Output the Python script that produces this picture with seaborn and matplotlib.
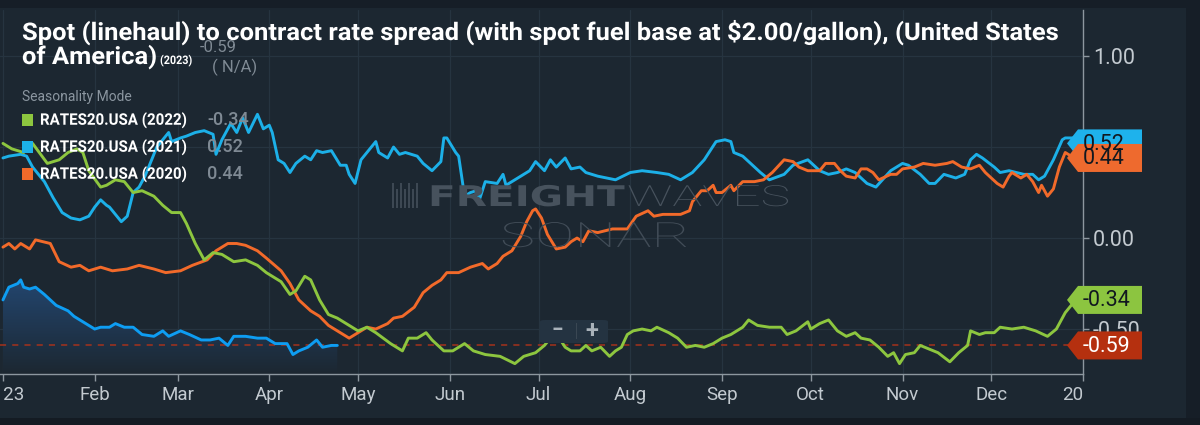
import numpy as np
import pandas as pd
import matplotlib
matplotlib.use("Agg")
import matplotlib.pyplot as plt
import matplotlib.dates as mdates
import matplotlib.transforms as mtransforms
from matplotlib.patches import Polygon, Rectangle, FancyBboxPatch
from matplotlib.patheffects import AbstractPathEffect
from matplotlib.colors import LinearSegmentedColormap
import seaborn as sns

# ---- values (x = days after Jan 1 2023) ----
days_2023 = [0, 2, 5, 6, 7, 9, 11, 14, 16, 18, 22, 24, 27, 31, 33, 36, 38, 41, 44, 47, 51,
             54, 56, 60, 63, 67, 70, 73, 76, 78, 82, 86, 89, 92, 94, 96, 98, 100, 103, 106,
             108, 111, 113]
vals_2023 = [-0.34, -0.27, -0.25, -0.23, -0.27, -0.28, -0.27, -0.31, -0.34, -0.37, -0.40,
             -0.43, -0.46, -0.50, -0.49, -0.49, -0.47, -0.49, -0.49, -0.53, -0.54, -0.51,
             -0.54, -0.51, -0.53, -0.56, -0.56, -0.55, -0.59, -0.54, -0.54, -0.55, -0.55,
             -0.58, -0.58, -0.58, -0.64, -0.62, -0.60, -0.56, -0.60, -0.59, -0.59]

days_2022 = [0, 3, 7, 10, 15, 19, 22, 25, 27, 29, 33, 35, 38, 41, 44, 47, 51, 54, 57, 60, 62,
             65, 68, 71, 74, 78, 82, 86, 89, 94, 97, 99, 102, 104, 107, 110, 113, 116, 120,
             123, 126, 131, 135, 137, 140, 143, 145, 149, 152, 156, 159, 163, 168, 173, 176,
             180, 183, 185, 188, 190, 192, 195, 197, 199, 202, 205, 207, 209, 211, 213, 216,
             219, 221, 225, 228, 231, 234, 237, 240, 243, 246, 250, 252, 255, 259, 263, 265,
             268, 272, 273, 276, 279, 282, 285, 288, 290, 293, 296, 299, 301, 303, 305, 308,
             310, 313, 316, 320, 323, 326, 327, 330, 332, 335, 337, 341, 345, 349, 353, 356,
             359, 361, 363]
vals_2022 = [0.52, 0.49, 0.47, 0.52, 0.41, 0.43, 0.47, 0.49, 0.47, 0.37, 0.28, 0.29, 0.32,
             0.31, 0.25, 0.26, 0.23, 0.18, 0.14, 0.14, 0.08, -0.03, -0.12, -0.08, -0.09,
             -0.13, -0.12, -0.15, -0.19, -0.24, -0.31, -0.29, -0.21, -0.23, -0.34, -0.42,
             -0.44, -0.47, -0.51, -0.49, -0.52, -0.58, -0.62, -0.55, -0.55, -0.52, -0.56,
             -0.62, -0.62, -0.58, -0.62, -0.64, -0.65, -0.69, -0.65, -0.63, -0.59, -0.55,
             -0.55, -0.60, -0.62, -0.62, -0.59, -0.62, -0.60, -0.65, -0.62, -0.60, -0.53,
             -0.51, -0.50, -0.51, -0.49, -0.52, -0.55, -0.60, -0.59, -0.60, -0.58, -0.55,
             -0.53, -0.49, -0.45, -0.48, -0.49, -0.49, -0.53, -0.51, -0.46, -0.50, -0.47,
             -0.45, -0.51, -0.54, -0.52, -0.55, -0.56, -0.60, -0.65, -0.63, -0.69, -0.64,
             -0.63, -0.59, -0.61, -0.63, -0.68, -0.63, -0.59, -0.51, -0.53, -0.52, -0.52,
             -0.49, -0.50, -0.49, -0.51, -0.54, -0.50, -0.41, -0.37, -0.34]

days_2021 = [0, 2, 6, 8, 10, 14, 17, 20, 23, 26, 29, 31, 33, 35, 36, 38, 40, 42, 44, 46, 48,
             50, 52, 54, 56, 57, 60, 62, 65, 68, 71, 72, 74, 77, 79, 81, 83, 86, 88, 90, 91,
             93, 95, 97, 99, 102, 104, 106, 108, 111, 114, 116, 117, 119, 121, 123, 126, 127,
             130, 132, 134, 136, 138, 140, 142, 145, 148, 149, 150, 153, 154, 156, 158, 160,
             161, 163, 167, 169, 170, 172, 176, 178, 180, 183, 185, 187, 190, 192, 195, 197,
             201, 204, 207, 212, 216, 221, 225, 229, 233, 237, 239, 241, 244, 246, 247, 250,
             254, 256, 259, 264, 267, 272, 276, 279, 282, 285, 288, 292, 295, 300, 304, 306,
             310, 313, 315, 318, 322, 325, 327, 329, 331, 335, 337, 340, 345, 348, 350, 352,
             355, 358, 359, 362, 363]
vals_2021 = [0.44, 0.45, 0.46, 0.45, 0.39, 0.31, 0.22, 0.14, 0.11, 0.10, 0.12, 0.17, 0.21,
             0.18, 0.17, 0.13, 0.09, 0.12, 0.25, 0.28, 0.34, 0.42, 0.50, 0.54, 0.58, 0.53,
             0.55, 0.56, 0.58, 0.59, 0.57, 0.46, 0.54, 0.63, 0.58, 0.66, 0.58, 0.68, 0.60,
             0.62, 0.58, 0.43, 0.41, 0.36, 0.41, 0.45, 0.43, 0.48, 0.47, 0.48, 0.40, 0.40,
             0.35, 0.30, 0.43, 0.47, 0.53, 0.47, 0.44, 0.50, 0.46, 0.47, 0.46, 0.45, 0.41,
             0.37, 0.42, 0.55, 0.55, 0.47, 0.45, 0.23, 0.25, 0.26, 0.21, 0.31, 0.30, 0.35,
             0.29, 0.31, 0.35, 0.37, 0.42, 0.37, 0.43, 0.39, 0.44, 0.38, 0.39, 0.36, 0.34,
             0.33, 0.32, 0.36, 0.37, 0.36, 0.35, 0.32, 0.36, 0.43, 0.48, 0.53, 0.54, 0.53,
             0.47, 0.45, 0.39, 0.36, 0.32, 0.35, 0.40, 0.43, 0.37, 0.35, 0.36, 0.38, 0.36,
             0.30, 0.28, 0.37, 0.41, 0.40, 0.35, 0.30, 0.30, 0.35, 0.33, 0.35, 0.43, 0.46,
             0.44, 0.39, 0.36, 0.37, 0.35, 0.35, 0.32, 0.34, 0.43, 0.54, 0.55, 0.55, 0.52]

days_2020 = [0, 2, 4, 6, 9, 11, 16, 19, 23, 26, 29, 33, 37, 42, 46, 51, 55, 60, 64, 69, 72,
             76, 79, 82, 86, 89, 94, 97, 100, 104, 107, 110, 114, 117, 120, 123, 126, 130,
             132, 135, 139, 142, 145, 148, 150, 154, 158, 162, 164, 167, 169, 172, 175, 177,
             179, 180, 182, 184, 187, 190, 192, 194, 196, 198, 201, 206, 211, 214, 218, 220,
             223, 226, 229, 232, 233, 236, 238, 240, 241, 243, 246, 247, 250, 254, 257, 260,
             264, 267, 269, 272, 276, 278, 281, 283, 285, 288, 290, 292, 294, 296, 300, 302,
             304, 308, 311, 315, 319, 321, 324, 327, 330, 332, 336, 338, 340, 341, 344, 346,
             348, 350, 351, 353, 355, 357, 359, 361, 363]
vals_2020 = [-0.05, -0.03, -0.06, -0.03, -0.06, -0.01, -0.03, -0.13, -0.16, -0.15, -0.18,
             -0.16, -0.18, -0.17, -0.15, -0.17, -0.19, -0.18, -0.15, -0.12, -0.07, -0.03,
             -0.03, -0.04, -0.07, -0.11, -0.18, -0.25, -0.34, -0.40, -0.43, -0.48, -0.52,
             -0.55, -0.52, -0.49, -0.50, -0.47, -0.44, -0.43, -0.38, -0.30, -0.26, -0.23,
             -0.19, -0.19, -0.16, -0.14, -0.17, -0.14, -0.10, -0.07, 0.01, 0.09, 0.15, 0.16,
             0.11, 0.02, -0.06, -0.05, -0.02, 0.00, -0.02, 0.04, 0.03, 0.05, 0.05, 0.12, 0.15,
             0.12, 0.13, 0.13, 0.13, 0.15, 0.20, 0.26, 0.26, 0.29, 0.25, 0.25, 0.29, 0.26,
             0.31, 0.31, 0.32, 0.36, 0.43, 0.42, 0.39, 0.37, 0.37, 0.41, 0.41, 0.37, 0.34,
             0.33, 0.38, 0.38, 0.36, 0.32, 0.35, 0.35, 0.38, 0.39, 0.41, 0.40, 0.41, 0.42,
             0.39, 0.38, 0.40, 0.36, 0.30, 0.28, 0.34, 0.36, 0.33, 0.35, 0.31, 0.25, 0.29,
             0.23, 0.27, 0.39, 0.47, 0.45, 0.44]

legend_names = ["RATES20.USA (2022)", "RATES20.USA (2021)", "RATES20.USA (2020)"]
legend_values = ["-0.34", "0.52", "0.44"]
month_labels = ["2023", "Feb", "Mar", "Apr", "May", "Jun", "Jul", "Aug", "Sep", "Oct",
                "Nov", "Dec", "2024"]
last_2023, last_2022, last_2021, last_2020 = -0.59, -0.34, 0.52, 0.44

# ---- colours ----
bg = "#1c2731"
grid_col = "#263440"
green = "#8dc63f"
blue21 = "#1cb0e8"
blue23 = "#0e9df2"
orange = "#f26a2a"
red = "#b5300f"
wm_col = "#47525d"


class HScale(AbstractPathEffect):
    """squeeze / stretch a text horizontally around its left edge"""

    def __init__(self, sx, x0):
        super().__init__()
        self.sx, self.x0 = sx, x0

    def draw_path(self, renderer, gc, tpath, affine, rgbFace=None):
        t = affine + mtransforms.Affine2D().translate(-self.x0, 0).scale(self.sx, 1).translate(self.x0, 0)
        renderer.draw_path(gc, tpath, t, rgbFace)


start = pd.Timestamp("2023-01-01")
frames = []
for name, d, v in [("2023", days_2023, vals_2023), ("2021", days_2021, vals_2021),
                   ("2020", days_2020, vals_2020), ("2022", days_2022, vals_2022)]:
    frames.append(pd.DataFrame({"date": start + pd.to_timedelta(d, unit="D"),
                                "value": v, "series": name}))
df = pd.concat(frames, ignore_index=True)

sns.set_style("dark")
plt.rcParams["font.family"] = ["Roboto", "DejaVu Sans"]

fig = plt.figure(figsize=(12, 4.25), dpi=100)
fig.patch.set_facecolor(bg)
ax = fig.add_axes([0, 51 / 425, 1083 / 1200, 364 / 425])
ax.set_facecolor(bg)

palette = {"2023": blue23, "2021": blue21, "2020": orange, "2022": green}
sns.lineplot(data=df, x="date", y="value", hue="series", palette=palette,
             hue_order=["2023", "2021", "2020", "2022"], estimator=None,
             linewidth=2.1, legend=False, ax=ax, zorder=3)

ymin, ymax = -0.747, 1.253
x0, x1 = pd.Timestamp("2022-12-31"), pd.Timestamp("2024-01-01")

# gradient fill under the 2023 line
d23 = df[df.series == "2023"]
poly = ax.fill_between(d23["date"], d23["value"], ymin, facecolor="none", edgecolor="none")
xn = mdates.date2num(d23["date"])
grad = np.linspace(0, 1, 256).reshape(-1, 1)
cmap = LinearSegmentedColormap.from_list("fill", [bg, "#23466f"])
im = ax.imshow(grad, extent=[xn[0], xn[-1], ymin, max(vals_2023)], origin="lower",
               aspect="auto", cmap=cmap, zorder=1)
im.set_clip_path(poly.get_paths()[0], transform=ax.transData)

ax.axhline(last_2023, color="#a5321c", lw=1.1, ls=(0, (4, 4)), zorder=2)

ax.set_xlim(x0, x1)
ax.set_ylim(ymin, ymax)
ticks = pd.date_range("2023-01-01", "2024-01-01", freq="MS")
ax.set_xticks(ticks)
ax.set_xticklabels(month_labels)
ax.set_yticks([-0.5, 0, 0.5, 1.0])
ax.set_yticklabels(["-0.50", "0.00", "0.50", "1.00"])
ax.yaxis.tick_right()
ax.set_xlabel("")
ax.set_ylabel("")
ax.grid(True, color=grid_col, lw=0.9)
ax.tick_params(axis="x", colors="#8d979f", labelcolor="#c3cad0", labelsize=13.5,
               length=5, width=1, pad=4, bottom=True)
ax.tick_params(axis="y", colors="#8d979f", labelcolor="#c3cad0", labelsize=15.5,
               length=4, width=1, pad=3, right=True)
for s in ["left", "top"]:
    ax.spines[s].set_visible(False)
for s in ["right", "bottom"]:
    ax.spines[s].set_visible(True)
    ax.spines[s].set_color("#8d979f")
    ax.spines[s].set_linewidth(1)

# year labels are cut at the plot edges, like the original
label_clip = mtransforms.TransformedBbox(
    mtransforms.Bbox.from_extents(3 / 1200, 0, 1083 / 1200, 1), fig.transFigure)
for lab in ax.get_xticklabels():
    lab.set_clip_box(label_clip)
    lab.set_clip_on(True)

# watermark
for i in range(7):
    fig.patches.append(Rectangle(((392 + 4 * i) / 1200, (425 - 208) / 425), 2 / 1200,
                                 (25 - 6 * (i % 2)) / 425, transform=fig.transFigure,
                                 facecolor="#3d4853", edgecolor="none", zorder=1))
wm1 = fig.text(428 / 1200, 1 - 206 / 425, "FREIGHT", fontsize=20.5, color=wm_col,
               fontweight="heavy", family=["DejaVu Sans"], va="baseline", ha="left", zorder=1)
wm2 = fig.text(627 / 1200, 1 - 206 / 425, "WAVES", fontsize=21, color=wm_col,
               fontweight=100, va="baseline", ha="left", zorder=1)
wm3 = fig.text(500 / 1200, 1 - 247 / 425, "SONAR", fontsize=25, color="#414c57",
               fontweight=100, va="baseline", ha="left", zorder=1)

# zoom widget
fig.patches.append(FancyBboxPatch((540 / 1200, (425 - 343) / 425), 68 / 1200, 23 / 425,
                                  boxstyle="round,pad=0,rounding_size=0.004",
                                  transform=fig.transFigure, facecolor="#243341",
                                  edgecolor="none", zorder=5))
fig.patches.append(Rectangle((576 / 1200, (425 - 339) / 425), 1 / 1200, 16 / 425,
                             transform=fig.transFigure, facecolor="#3a4753",
                             edgecolor="none", zorder=6))
fig.text(557 / 1200, 1 - 331 / 425, "\u2212", fontsize=15, color="#a9b2ba",
         fontweight="bold", ha="center", va="center", zorder=6)
fig.text(592 / 1200, 1 - 331 / 425, "+", fontsize=17, color="#a9b2ba",
         fontweight="bold", ha="center", va="center", zorder=6)

# value flags on the right
trans = mtransforms.blended_transform_factory(fig.transFigure, ax.transData)
h = 14 / 182
for val, col, txtcol in [(last_2021, "#1eb2ec", "#111820"), (last_2020, "#ee6a2e", "#111820"),
                         (last_2022, "#8cc540", "#111820"), (last_2023, red, "#ffffff")]:
    pts = [(1067, val), (1078, val + h), (1142, val + h), (1142, val - h), (1078, val - h)]
    pts = [(px / 1200, py) for px, py in pts]
    ax.add_patch(Polygon(pts, closed=True, transform=trans, facecolor=col,
                         edgecolor="none", clip_on=False, zorder=10))
    ax.text(1083 / 1200, val - 0.004, f"{val:.2f}", transform=trans, fontsize=15.5,
            color=txtcol, va="center", ha="left", clip_on=False, zorder=11)

# title
t1 = fig.text(22 / 1200, 1 - 40 / 425,
              "Spot (linehaul) to contract rate spread (with spot fuel base at \\$2.00/gallon), (United States",
              fontsize=17.5, color="white", fontweight="bold", va="baseline", ha="left")
t2 = fig.text(22 / 1200, 1 - 64 / 425, "of America)", fontsize=17.5, color="white",
              fontweight="bold", va="baseline", ha="left")
t3 = fig.text(160 / 1200, 1 - 64 / 425, "(2023)", fontsize=8.5, color="white",
              fontweight="bold", va="baseline", ha="left")
fig.text(200 / 1200, 1 - 48 / 425, "-0.59", fontsize=12, color="#7f8a94",
         va="center", ha="left")
fig.text(212 / 1200, 1 - 67 / 425, "( N/A)", fontsize=12, color="#7f8a94",
         va="center", ha="left")

# legend
fig.text(22 / 1200, 1 - 97 / 425, "Seasonality Mode", fontsize=10, color="#8b96a0",
         va="center", ha="left")
leg_txt = []
for i, (nm, vv, col) in enumerate(zip(legend_names, legend_values, [green, blue21, orange])):
    yc = 120 + 27 * i
    fig.patches.append(Rectangle((22 / 1200, (425 - yc - 6) / 425), 11 / 1200, 12 / 425,
                                 transform=fig.transFigure, facecolor=col, edgecolor="none"))
    leg_txt.append(fig.text(40 / 1200, 1 - yc / 425, nm, fontsize=11.5, color="white",
                            fontweight="bold", va="center", ha="left", zorder=6))
    fig.text(207 / 1200, 1 - yc / 425, vv, fontsize=13, color="#7f8a94", fontweight="medium",
             va="center", ha="left", zorder=6)

# dark frame strips
fig.patches.append(Rectangle((0, 1 - 8 / 425), 1, 8 / 425, transform=fig.transFigure,
                             facecolor="#161e27", edgecolor="none", zorder=-1))
fig.patches.append(Rectangle((1186 / 1200, 0), 14 / 1200, 1, transform=fig.transFigure,
                             facecolor="#161e27", edgecolor="none", zorder=-1))
fig.patches.append(Rectangle((0, 0), 1, 7 / 425, transform=fig.transFigure,
                             facecolor="#141b23", edgecolor="none", zorder=-1))

# fit the condensed / extended texts to the widths seen in the original
fig.canvas.draw()
renderer = fig.canvas.get_renderer()
for txt, width in [(t1, 1035), (t2, 135), (t3, 32), (wm1, 197), (wm2, 163), (wm3, 190)] + \
        [(lt, 147) for lt in leg_txt]:
    bb = txt.get_window_extent(renderer)
    txt.set_path_effects([HScale(width / bb.width, bb.x0)])

fig.savefig("out.png", dpi=100, facecolor=bg)
